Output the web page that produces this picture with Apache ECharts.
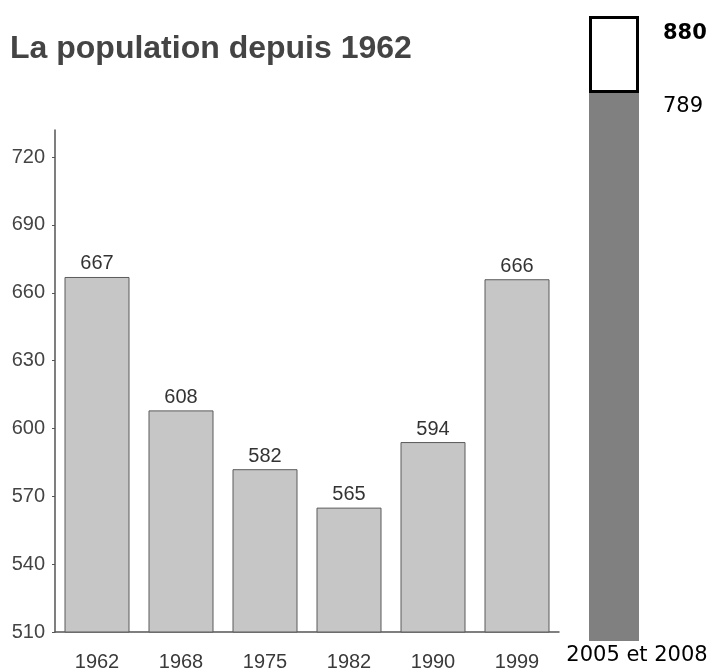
<!DOCTYPE html>
<html>
<head>
<meta charset="utf-8">
<script src="https://cdn.jsdelivr.net/npm/echarts@6/dist/echarts.min.js"></script>
<style>
  html, body { margin: 0; padding: 0; background: #ffffff; }
  #chart { width: 712px; height: 672px; }
</style>
</head>
<body>
<div id="chart"></div>
<script>
// Census years and population counts
const years = ['1962', '1968', '1975', '1982', '1990', '1999'];
const population = [667, 608, 582, 565, 594, 666];
const yTicks = [510, 540, 570, 600, 630, 660, 690, 720];

// Recent period: measured value and projected total
const recentLabel = ['2005 et 2008'];
const recentValue = [789];
const recentTarget = [880];
const recentExtra = recentTarget.map((t, i) => t - recentValue[i]);

const chart = echarts.init(document.getElementById('chart'), null, { renderer: 'canvas' });

const sansFont = '"Liberation Sans", Arial, sans-serif';
const verdanaFont = '"DejaVu Sans", Verdana, sans-serif';

chart.setOption({
  animation: false,
  backgroundColor: '#ffffff',
  title: {
    text: 'La population depuis 1962',
    left: 10,
    top: 33,
    padding: 0,
    textStyle: { fontFamily: sansFont, fontSize: 32, fontWeight: 'bold', color: '#444444' }
  },
  grid: [
    { left: 55, top: 130, width: 504, height: 503 },
    { left: 564, top: 16, width: 100, height: 625 }
  ],
  xAxis: [
    {
      type: 'category', gridIndex: 0, data: years,
      axisLine: { lineStyle: { color: '#555555', width: 1.5 } },
      axisTick: { show: false },
      axisLabel: { fontFamily: sansFont, fontSize: 20, color: '#3a3a3a', margin: 20 }
    },
    {
      type: 'category', gridIndex: 1, data: recentLabel,
      axisLine: { show: false },
      axisTick: { show: false },
      axisLabel: { fontFamily: verdanaFont, fontSize: 21, color: '#000000', margin: 4, padding: [0, 0, 0, 46] }
    }
  ],
  yAxis: [
    {
      type: 'value', gridIndex: 0, min: 510, max: 732, interval: 30,
      splitLine: { show: false },
      axisLine: { show: true, lineStyle: { color: '#555555', width: 1.5 } },
      axisTick: { show: true, inside: false, length: 3, customValues: yTicks, lineStyle: { color: '#555555' } },
      axisLabel: { fontFamily: sansFont, fontSize: 20, color: '#444444', margin: 10, customValues: yTicks }
    },
    {
      type: 'value', gridIndex: 1, min: 141, max: 880,
      show: false
    }
  ],
  series: [
    {
      type: 'bar', xAxisIndex: 0, yAxisIndex: 0,
      data: population,
      barWidth: 65,
      itemStyle: { color: '#c6c6c6', borderColor: '#5a5a5a', borderWidth: 1 },
      label: {
        show: true, position: 'top', distance: 3,
        fontFamily: sansFont, fontSize: 20, color: '#333333'
      }
    },
    {
      type: 'bar', xAxisIndex: 1, yAxisIndex: 1, stack: 'recent',
      data: recentValue,
      barWidth: 50,
      itemStyle: { color: '#808080' },
      label: {
        show: true, position: ['100%', 0], offset: [24, 3],
        fontFamily: verdanaFont, fontSize: 21, color: '#000000',
        formatter: (p) => String(recentValue[p.dataIndex])
      }
    },
    {
      type: 'bar', xAxisIndex: 1, yAxisIndex: 1, stack: 'recent',
      data: recentExtra,
      barWidth: 50,
      itemStyle: { color: '#ffffff', borderColor: '#000000', borderWidth: 3 },
      label: {
        show: true, position: ['100%', 0], offset: [24, 7],
        fontFamily: verdanaFont, fontSize: 21, fontWeight: 'bold', color: '#000000',
        formatter: (p) => String(recentTarget[p.dataIndex])
      }
    }
  ]
});
</script>
</body>
</html>
